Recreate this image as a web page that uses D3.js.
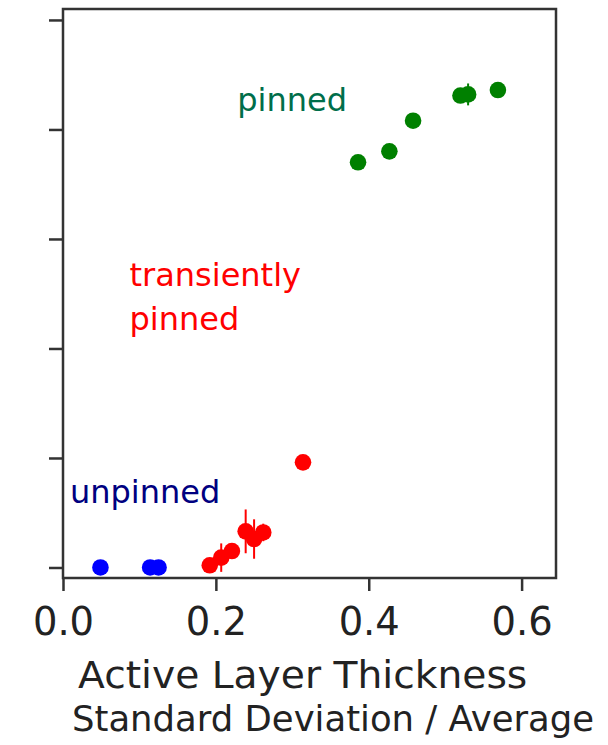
<!DOCTYPE html>
<html>
<head>
<meta charset="utf-8">
<script src="https://cdn.jsdelivr.net/npm/d3@7"></script>
<style>
  html, body { margin: 0; padding: 0; background: #fff; }
  svg { display: block; }
  text { font-family: "DejaVu Sans", Verdana, sans-serif; }
</style>
</head>
<body>
<svg id="chart" width="608" height="745"></svg>
<script>
// Active-layer variability vs. pinning regime
const unpinnedX   = [0.049, 0.114, 0.125];
const unpinnedY   = [0.00, 0.00, 0.00];
const unpinnedErr = [0.00, 0.00, 0.00];

const transientX   = [0.192, 0.207, 0.221, 0.239, 0.250, 0.262, 0.314];
const transientY   = [0.02, 0.09, 0.15, 0.33, 0.26, 0.32, 0.96];
const transientErr = [0.03, 0.13, 0.05, 0.20, 0.18, 0.08, 0.00];

const pinnedX   = [0.386, 0.427, 0.458, 0.520, 0.530, 0.569];
const pinnedY   = [3.70, 3.80, 4.08, 4.31, 4.32, 4.36];
const pinnedErr = [0.03, 0.04, 0.03, 0.05, 0.10, 0.03];

const xTicks = [0.0, 0.2, 0.4, 0.6];
const yTicks = [0, 1, 2, 3, 4, 5];

const svg = d3.select("#chart");
const plotLeft = 63, plotRight = 556, plotTop = 9, plotBottom = 578;

const x = d3.scaleLinear().domain([0, 0.645]).range([plotLeft, plotRight]);
const y = d3.scaleLinear().domain([-0.096, 5.1]).range([plotBottom, plotTop]);

// axes
const xAxis = svg.append("g")
  .attr("transform", `translate(0,${plotBottom})`)
  .call(d3.axisBottom(x).tickValues(xTicks).tickFormat(d3.format(".1f")).tickSize(13).tickPadding(17));
xAxis.select(".domain").remove();
xAxis.selectAll(".tick line").attr("stroke", "#333").attr("stroke-width", 2.5);
xAxis.selectAll(".tick text").attr("fill", "#222").style("font-size", "38.5px");

const yAxis = svg.append("g")
  .attr("transform", `translate(${plotLeft},0)`)
  .call(d3.axisLeft(y).tickValues(yTicks).tickFormat("").tickSize(14));
yAxis.select(".domain").remove();
yAxis.selectAll(".tick line").attr("stroke", "#333").attr("stroke-width", 2.5);

// series
const series = [
  { xs: unpinnedX,  ys: unpinnedY,  errs: unpinnedErr,  color: "#0000ff" },
  { xs: transientX, ys: transientY, errs: transientErr, color: "#ff0000" },
  { xs: pinnedX,    ys: pinnedY,    errs: pinnedErr,    color: "#008000" }
];

series.forEach(s => {
  const pts = s.xs.map((v, i) => ({ x: v, y: s.ys[i], e: s.errs[i] }));
  const g = svg.append("g");
  g.selectAll("line.err").data(pts.filter(p => p.e > 0)).join("line")
    .attr("class", "err")
    .attr("x1", d => x(d.x)).attr("x2", d => x(d.x))
    .attr("y1", d => y(d.y - d.e)).attr("y2", d => y(d.y + d.e))
    .attr("stroke", s.color).attr("stroke-width", 2);
  g.selectAll("circle").data(pts).join("circle")
    .attr("cx", d => x(d.x)).attr("cy", d => y(d.y))
    .attr("r", 8.3).attr("fill", s.color);
});

// frame
svg.append("rect")
  .attr("x", plotLeft).attr("y", plotTop)
  .attr("width", plotRight - plotLeft).attr("height", plotBottom - plotTop)
  .attr("fill", "none").attr("stroke", "#333").attr("stroke-width", 2.5);

// regime annotations
const notes = [
  { lines: ["pinned"], xv: 0.228, yv: 4.17, color: "#006e4a" },
  { lines: ["transiently", "pinned"], xv: 0.087, yv: 2.57, color: "#ff0000" },
  { lines: ["unpinned"], xv: 0.009, yv: 0.59, color: "#000080" }
];
notes.forEach(n => {
  const t = svg.append("text")
    .attr("x", x(n.xv)).attr("y", y(n.yv))
    .attr("fill", n.color).style("font-size", "32px");
  n.lines.forEach((l, i) => {
    t.append("tspan").attr("x", x(n.xv)).attr("dy", i === 0 ? 0 : 44).text(l);
  });
});

// axis title, two lines
svg.append("text")
  .attr("transform", "translate(78,688) scale(1.06,1)")
  .attr("fill", "#222").style("font-size", "37px")
  .text("Active Layer Thickness");
svg.append("text")
  .attr("transform", "translate(72,731) scale(0.985,1)")
  .attr("fill", "#222").style("font-size", "36px")
  .text("Standard Deviation / Average");
</script>
</body>
</html>
